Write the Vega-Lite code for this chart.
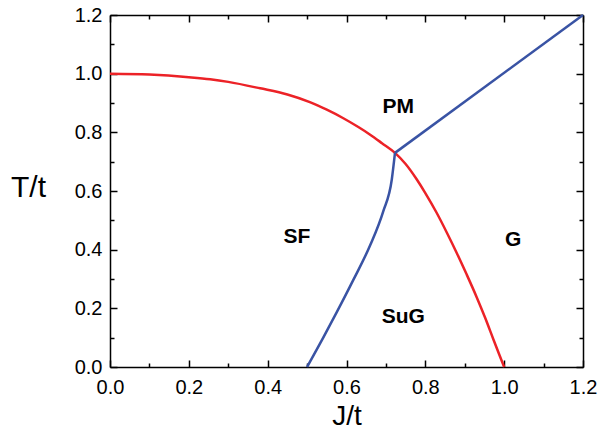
{
  "$schema": "https://vega.github.io/schema/vega-lite/v6.json",
  "autosize": {"type": "none"},
  "padding": {"left": 110, "top": 15, "right": 15, "bottom": 66},
  "width": 473,
  "height": 352,
  "background": "white",
  "config": {
    "view": {"stroke": null},
    "font": "Liberation Sans",
    "axis": {
      "grid": false,
      "domainColor": "black",
      "domainWidth": 1.5,
      "tickColor": "black",
      "tickWidth": 1.5,
      "labelFont": "Liberation Sans",
      "labelFontSize": 20,
      "labelColor": "black",
      "titleFont": "Liberation Sans",
      "titleFontWeight": "normal",
      "titleColor": "black"
    }
  },
  "datasets": {
    "lines": [
      {"curve": "red", "i": 0, "J": 0.0, "T": 1.0},
      {"curve": "red", "i": 1, "J": 0.1, "T": 0.997},
      {"curve": "red", "i": 2, "J": 0.2, "T": 0.988},
      {"curve": "red", "i": 3, "J": 0.254, "T": 0.981},
      {"curve": "red", "i": 4, "J": 0.3, "T": 0.972},
      {"curve": "red", "i": 5, "J": 0.381, "T": 0.95},
      {"curve": "red", "i": 6, "J": 0.45, "T": 0.929},
      {"curve": "red", "i": 7, "J": 0.507, "T": 0.903},
      {"curve": "red", "i": 8, "J": 0.55, "T": 0.877},
      {"curve": "red", "i": 9, "J": 0.592, "T": 0.848},
      {"curve": "red", "i": 10, "J": 0.63, "T": 0.818},
      {"curve": "red", "i": 11, "J": 0.66, "T": 0.792},
      {"curve": "red", "i": 12, "J": 0.69, "T": 0.763},
      {"curve": "red", "i": 13, "J": 0.723, "T": 0.73},
      {"curve": "red", "i": 14, "J": 0.75, "T": 0.692},
      {"curve": "red", "i": 15, "J": 0.778, "T": 0.64},
      {"curve": "red", "i": 16, "J": 0.8, "T": 0.593},
      {"curve": "red", "i": 17, "J": 0.829, "T": 0.525},
      {"curve": "red", "i": 18, "J": 0.855, "T": 0.457},
      {"curve": "red", "i": 19, "J": 0.88, "T": 0.388},
      {"curve": "red", "i": 20, "J": 0.905, "T": 0.315},
      {"curve": "red", "i": 21, "J": 0.93, "T": 0.239},
      {"curve": "red", "i": 22, "J": 0.952, "T": 0.167},
      {"curve": "red", "i": 23, "J": 0.973, "T": 0.093},
      {"curve": "red", "i": 24, "J": 0.988, "T": 0.041},
      {"curve": "red", "i": 25, "J": 1.0, "T": 0.0},
      {"curve": "blueLow", "i": 0, "J": 0.5, "T": 0.0},
      {"curve": "blueLow", "i": 1, "J": 0.541, "T": 0.1},
      {"curve": "blueLow", "i": 2, "J": 0.575, "T": 0.186},
      {"curve": "blueLow", "i": 3, "J": 0.617, "T": 0.296},
      {"curve": "blueLow", "i": 4, "J": 0.66, "T": 0.415},
      {"curve": "blueLow", "i": 5, "J": 0.693, "T": 0.53},
      {"curve": "blueLow", "i": 6, "J": 0.715, "T": 0.64},
      {"curve": "blueLow", "i": 7, "J": 0.723, "T": 0.73},
      {"curve": "blueHigh", "i": 0, "J": 0.723, "T": 0.73},
      {"curve": "blueHigh", "i": 1, "J": 1.2, "T": 1.2}
    ],
    "labels": [
      {"text": "PM", "J": 0.731, "T": 0.886},
      {"text": "SF", "J": 0.474, "T": 0.443},
      {"text": "G", "J": 1.023, "T": 0.432},
      {"text": "SuG", "J": 0.744, "T": 0.17}
    ]
  },
  "layer": [
    {
      "data": {"name": "lines"},
      "transform": [{"filter": "datum.curve == 'red'"}],
      "mark": {"type": "line", "color": "#ec2227", "strokeWidth": 2.5, "interpolate": "monotone"},
      "encoding": {
        "x": {
          "field": "J", "type": "quantitative",
          "scale": {"domain": [0, 1.2], "nice": false, "zero": false},
          "axis": {
            "orient": "bottom",
            "values": [0, 0.1, 0.2, 0.3, 0.4, 0.5, 0.6, 0.7, 0.8, 0.9, 1.0, 1.1, 1.2],
            "tickSize": {"condition": {"test": "round(datum.value*10) % 2 == 0", "value": -7}, "value": -4},
            "labelExpr": "round(datum.value*10) % 2 == 0 ? format(datum.value, '.1f') : ''",
            "labelPadding": 17,
            "labelFlush": false,
            "labelOverlap": false,
            "title": "J/t",
            "titleFontSize": 28,
            "titlePadding": 2
          }
        },
        "y": {
          "field": "T", "type": "quantitative",
          "scale": {"domain": [0, 1.2], "nice": false, "zero": false},
          "axis": {
            "orient": "left",
            "values": [0, 0.1, 0.2, 0.3, 0.4, 0.5, 0.6, 0.7, 0.8, 0.9, 1.0, 1.1, 1.2],
            "tickSize": {"condition": {"test": "round(datum.value*10) % 2 == 0", "value": -7}, "value": -4},
            "labelExpr": "round(datum.value*10) % 2 == 0 ? format(datum.value, '.1f') : ''",
            "labelPadding": 15,
            "labelFlush": false,
            "labelOverlap": false,
            "title": "T/t",
            "titleFontSize": 30,
            "titleAngle": 0,
            "titleAlign": "center",
            "titleBaseline": "alphabetic",
            "titleX": -82,
            "titleY": 181
          }
        },
        "order": {"field": "i", "type": "quantitative"}
      }
    },
    {
      "data": {"name": "lines"},
      "transform": [{"filter": "datum.curve != 'red'"}],
      "mark": {"type": "line", "color": "#3953a4", "strokeWidth": 2.5, "interpolate": "monotone"},
      "encoding": {
        "x": {
          "field": "J", "type": "quantitative",
          "axis": {
            "orient": "top",
            "values": [0, 0.1, 0.2, 0.3, 0.4, 0.5, 0.6, 0.7, 0.8, 0.9, 1.0, 1.1, 1.2],
            "tickSize": {"condition": {"test": "round(datum.value*10) % 2 == 0", "value": -7}, "value": -4},
            "labels": false,
            "title": null
          }
        },
        "y": {
          "field": "T", "type": "quantitative",
          "axis": {
            "orient": "right",
            "values": [0, 0.1, 0.2, 0.3, 0.4, 0.5, 0.6, 0.7, 0.8, 0.9, 1.0, 1.1, 1.2],
            "tickSize": {"condition": {"test": "round(datum.value*10) % 2 == 0", "value": -7}, "value": -4},
            "labels": false,
            "title": null
          }
        },
        "detail": {"field": "curve", "type": "nominal"},
        "order": {"field": "i", "type": "quantitative"}
      }
    },
    {
      "data": {"name": "labels"},
      "mark": {"type": "text", "font": "Liberation Sans", "fontWeight": "bold", "fontSize": 21, "color": "black", "align": "center", "baseline": "middle"},
      "encoding": {
        "x": {"field": "J", "type": "quantitative", "axis": null},
        "y": {"field": "T", "type": "quantitative", "axis": null},
        "text": {"field": "text", "type": "nominal"}
      }
    }
  ]
}
